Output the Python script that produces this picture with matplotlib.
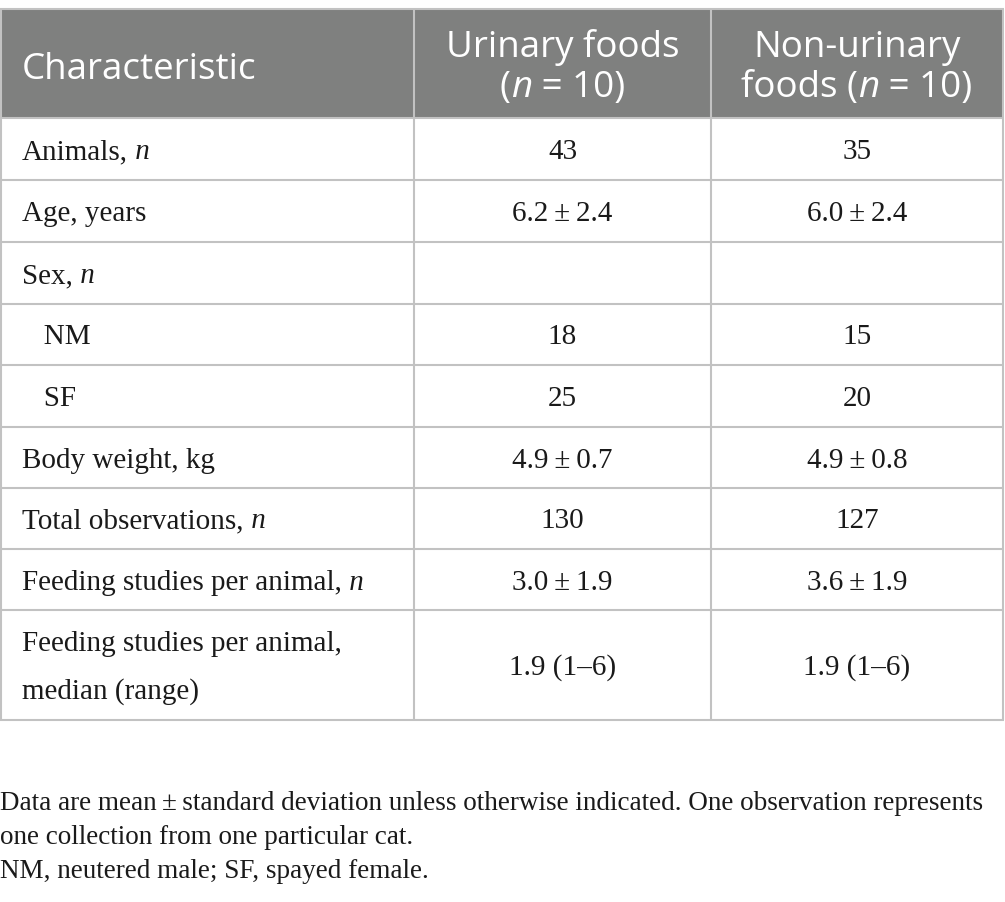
import matplotlib
matplotlib.use("Agg")
import matplotlib.pyplot as plt
from matplotlib.patches import Rectangle

# table content
header = ["Characteristic", "Urinary foods", "Non-urinary"]
labels = [
    [("Animals,", "n"), ("", "")],
    [("Age, years", ""), ("", "")],
    [("Sex,", "n"), ("", "")],
    [("   NM", ""), ("", "")],
    [("   SF", ""), ("", "")],
    [("Body weight, kg", ""), ("", "")],
    [("Total observations,", "n"), ("", "")],
    [("Feeding studies per animal,", "n"), ("", "")],
    [("Feeding studies per animal,", ""), ("median (range)", "")],
]
urinary = ["43", "6.2\u2009±\u20092.4", "", "18", "25", "4.9\u2009±\u20090.7", "130",
           "3.0\u2009±\u20091.9", "1.9 (1–6)"]
non_urinary = ["35", "6.0\u2009±\u20092.4", "", "15", "20", "4.9\u2009±\u20090.8", "127",
               "3.6\u2009±\u20091.9", "1.9 (1–6)"]
footnotes = [
    "Data are mean\u2009±\u2009standard deviation unless otherwise indicated. One observation represents",
    "one collection from one particular cat.",
    "NM, neutered male; SF, spayed female.",
]

W, H = 1005, 902
fig = plt.figure(figsize=(W / 100, H / 100), dpi=100)
ax = fig.add_axes([0, 0, 1, 1])
ax.set_xlim(0, W)
ax.set_ylim(H, 0)
ax.axis("off")

col_x = [1, 414, 711, 1003]
row_y = [9, 118, 180, 242, 304, 365, 427, 488, 549, 610, 720]
grid_c = "#c2c2c2"
head_c = "#7f807f"
serif = ["Liberation Serif", "DejaVu Serif"]
sans = "Open Sans"
fs_body = 21
fs_head = 26.5
ink = "#1a1a1a"

renderer = fig.canvas.get_renderer()


def runs(x, y, parts, family, size, color, ha="left"):
    # draw text pieces side by side, some in italics
    arts = []
    cx = x
    for txt, it in parts:
        t = ax.text(cx, y, txt, family=family, fontsize=size, color=color,
                    style="italic" if it else "normal", va="baseline", ha="left")
        bb = t.get_window_extent(renderer)
        cx += bb.width
        arts.append(t)
    total = cx - x
    if ha == "center":
        for t in arts:
            t.set_x(t.get_position()[0] - total / 2)


# header background
ax.add_patch(Rectangle((col_x[0], row_y[0]), col_x[-1] - col_x[0], row_y[1] - row_y[0],
                       facecolor=head_c, edgecolor="none"))

# grid lines
for y in row_y:
    ax.plot([col_x[0] - 1, col_x[-1] + 1], [y, y], color=grid_c, lw=1.5, solid_capstyle="butt")
for x in col_x:
    ax.plot([x, x], [row_y[0], row_y[-1]], color=grid_c, lw=1.5, solid_capstyle="butt")

# header text
ax.text(22, 79, header[0], family=sans, fontsize=fs_head, color="white", va="baseline")
c1 = (col_x[1] + col_x[2]) / 2
c2 = (col_x[2] + col_x[3]) / 2
ax.text(c1, 57, header[1], family=sans, fontsize=fs_head, color="white", va="baseline", ha="center")
runs(c1, 97, [("(", False), ("n", True), (" = 10)", False)], sans, fs_head, "white", ha="center")
ax.text(c2, 57, header[2], family=sans, fontsize=fs_head, color="white", va="baseline", ha="center")
runs(c2, 97, [("foods (", False), ("n", True), (" = 10)", False)], sans, fs_head, "white", ha="center")

# body rows
for i, lab in enumerate(labels):
    ytop, ybot = row_y[i + 1], row_y[i + 2]
    yc = (ytop + ybot) / 2 + 10
    first, second = lab
    if second[0]:
        runs(22, yc - 24, [(first[0], False)], serif, fs_body, ink)
        runs(22, yc + 24, [(second[0], False)], serif, fs_body, ink)
    else:
        parts = [(first[0], False)]
        if first[1]:
            parts.append((" " + first[1], True))
        runs(22, yc, parts, serif, fs_body, ink)
    ax.text(c1, yc, urinary[i], family=serif, fontsize=fs_body, color=ink, va="baseline", ha="center")
    ax.text(c2, yc, non_urinary[i], family=serif, fontsize=fs_body, color=ink, va="baseline", ha="center")

# footnotes
for k, line in enumerate(footnotes):
    ax.text(0, 810 + k * 34, line, family=serif, fontsize=19.5, color=ink, va="baseline")

fig.savefig("out.png", dpi=100)
